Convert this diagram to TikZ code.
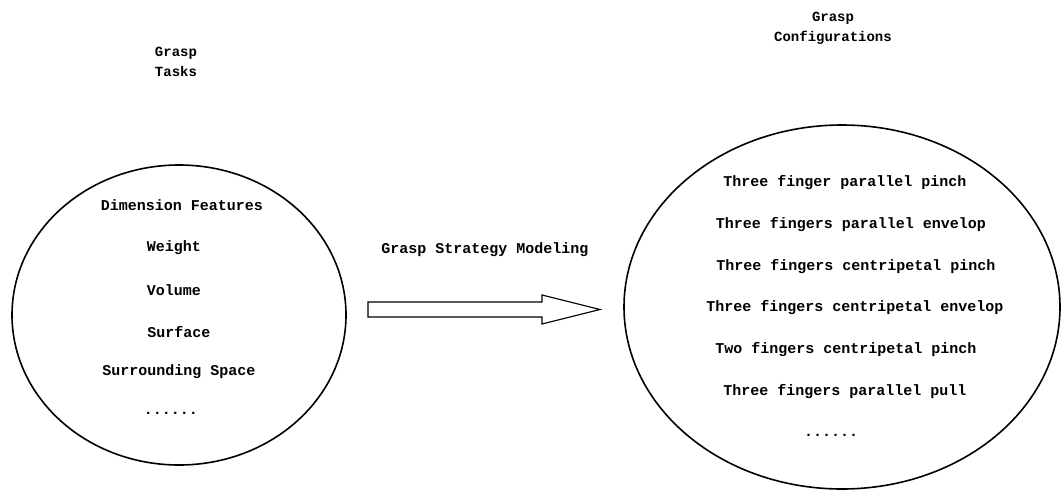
\documentclass[tikz,border=0pt]{standalone}
\usepackage{fontspec}
\setmonofont{Liberation Mono}
\usetikzlibrary{shapes.geometric}
\begin{document}
\begin{tikzpicture}[x=1pt,y=-1pt,
  lbl/.style={font=\ttfamily\bfseries\fontsize{15}{17}\selectfont, inner sep=0pt, anchor=center},
  ttl/.style={font=\ttfamily\bfseries\fontsize{14}{20}\selectfont, inner sep=0pt, align=center},
  ring/.style={draw=black, line width=1.6pt},
  blockarrow/.style={draw=black, line width=1.2pt, fill=white, line join=miter}]
\useasboundingbox (0,0) rectangle (1061,490);
% titles
\node[ttl, align=left] (t1) at (176,62) {Grasp\\Tasks};
\node[ttl] (t2) at (833,28) {Grasp\\Configurations};
% ellipses
\node[ring, ellipse, minimum width=334pt, minimum height=300pt, inner sep=0pt] (L) at (179,315) {};
\node[ring, ellipse, minimum width=436pt, minimum height=364pt, inner sep=0pt] (R) at (842,307) {};
% left texts
\node[lbl] (l1) at (182,205) {Dimension Features};
\node[lbl] (l2) at (174,248) {Weight};
\node[lbl] (l3) at (174,290) {Volume};
\node[lbl] (l4) at (179,332) {Surface};
\node[lbl] (l5) at (179,372) {Surrounding Space};
\node[lbl] (l6) at (171,413) {......};
% right texts
\node[lbl] (r1) at (845,183) {Three finger parallel pinch};
\node[lbl] (r2) at (851,225) {Three fingers parallel envelop};
\node[lbl] (r3) at (856,267) {Three fingers centripetal pinch};
\node[lbl] (r4) at (855,308) {Three fingers centripetal envelop};
\node[lbl] (r5) at (846,350) {Two fingers centripetal pinch};
\node[lbl] (r6) at (845,392) {Three fingers parallel pull};
\node[lbl] (r7) at (831,435) {......};
% arrow
\node[lbl] (m) at (485,250) {Grasp Strategy Modeling};
\coordinate (a0) at (368,309.5);
\coordinate (a1) at (600,309.5);
\draw[blockarrow] (a0) ++(0,-7.5) -- ++(174,0) -- ++(0,-7) -- (a1) -- ++(-58,14.5) -- ++(0,-7) -- ++(-174,0) -- cycle;
\end{tikzpicture}
\end{document}
